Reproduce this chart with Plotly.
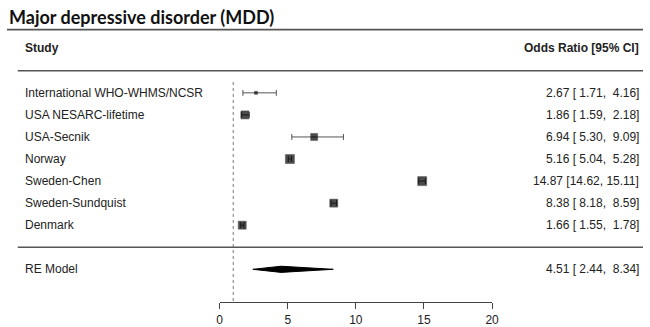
import plotly.graph_objects as go

# ---- data ----
studies = ["International WHO-WHMS/NCSR", "USA NESARC-lifetime", "USA-Secnik",
           "Norway", "Sweden-Chen", "Sweden-Sundquist", "Denmark"]
odds_ratio = [2.67, 1.86, 6.94, 5.16, 14.87, 8.38, 1.66]
ci_low = [1.71, 1.59, 5.30, 5.04, 14.62, 8.18, 1.55]
ci_high = [4.16, 2.18, 9.09, 5.28, 15.11, 8.59, 1.78]
re_label = "RE Model"
re_est, re_low, re_high = 4.51, 2.44, 8.34
x_ticks = [0, 5, 10, 15, 20]
ref_value = 1

# ---- style ----
marker_px = [3, 8, 7, 9, 9, 8, 8]
W, H = 650, 327
row_px = 22.33
first_row_px = 94
rows = list(range(1, len(studies) + 1))
re_row = len(studies) + 2
sep_row = len(studies) + 1
axis_px = 306

def row_range():
    top = 1 - first_row_px / row_px
    bot = 1 + (H - first_row_px) / row_px
    return [bot, top]

yr = row_range()
def px_to_row(p):
    return 1 + (p - first_row_px) / row_px

def fmt(e, l, u):
    nb = "\u00a0"
    return f"{e:.2f} [{l:5.2f}, {u:5.2f}]".replace(" ", nb)

FONT = "Liberation Sans, Arial, sans-serif"
TXT = "#222222"
LINE = "#555555"

fig = go.Figure()

# CI whiskers (drawn first, below the squares)
fig.add_trace(go.Scatter(
    x=odds_ratio, y=rows, mode="markers",
    marker=dict(size=1, color="rgba(0,0,0,0)"),
    error_x=dict(type="data", symmetric=False,
                 array=[u - e for u, e in zip(ci_high, odds_ratio)],
                 arrayminus=[e - l for e, l in zip(odds_ratio, ci_low)],
                 width=3, thickness=1, color=LINE),
    cliponaxis=False, showlegend=False, hoverinfo="skip"))

# point estimates
fig.add_trace(go.Scatter(
    x=odds_ratio, y=rows, mode="markers",
    marker=dict(symbol="square", size=marker_px, color="black",
                line=dict(width=0.5, color="black")),
    cliponaxis=False, showlegend=False, hoverinfo="skip"))

h = 0.14
fig.add_trace(go.Scatter(
    x=[re_low, re_est, re_high, re_est, re_low],
    y=[re_row, re_row - h, re_row, re_row + h, re_row],
    mode="lines", fill="toself", fillcolor="black",
    line=dict(color="black", width=1),
    cliponaxis=False, showlegend=False, hoverinfo="skip"))

# reference dotted line
fig.add_shape(type="line", xref="x", yref="y", x0=ref_value, x1=ref_value,
              y0=px_to_row(83), y1=px_to_row(axis_px),
              line=dict(color="#777777", width=1, dash="dot"))
# horizontal rules
fig.add_shape(type="line", xref="paper", yref="paper", x0=4 / W, x1=1,
              y0=1 - 30 / H, y1=1 - 30 / H, line=dict(color=LINE, width=1.6))
fig.add_shape(type="line", xref="paper", yref="y", x0=15 / W, x1=1,
              y0=0, y1=0, line=dict(color=LINE, width=1.6))
fig.add_shape(type="line", xref="paper", yref="y", x0=15 / W, x1=1,
              y0=sep_row, y1=sep_row, line=dict(color=LINE, width=1.6))

ann = []
ann.append(dict(text="<b>Major depressive disorder (MDD)</b>", x=4 / W, y=1 - 17 / H,
                xref="paper", yref="paper", xanchor="left", yanchor="middle",
                showarrow=False, font=dict(family="Lato, sans-serif", size=18, color="#111111")))
ann.append(dict(text="<b>Study</b>", x=20 / W, y=px_to_row(49), xref="paper", yref="y",
                xanchor="left", yanchor="middle", showarrow=False,
                font=dict(family=FONT, size=12, color=TXT)))
ann.append(dict(text="<b>Odds Ratio [95% CI]</b>", x=648 / W, y=px_to_row(49), xref="paper", yref="y",
                xanchor="right", yanchor="middle", showarrow=False,
                font=dict(family=FONT, size=12, color=TXT)))
for s, r, e, l, u in zip(studies, rows, odds_ratio, ci_low, ci_high):
    ann.append(dict(text=s, x=20 / W, y=r, xref="paper", yref="y", xanchor="left",
                    yanchor="middle", showarrow=False, font=dict(family=FONT, size=12, color=TXT)))
    ann.append(dict(text=fmt(e, l, u), x=648 / W, y=r, xref="paper", yref="y", xanchor="right",
                    yanchor="middle", showarrow=False, font=dict(family=FONT, size=12, color=TXT)))
ann.append(dict(text=re_label, x=20 / W, y=re_row, xref="paper", yref="y", xanchor="left",
                yanchor="middle", showarrow=False, font=dict(family=FONT, size=12, color=TXT)))
ann.append(dict(text=fmt(re_est, re_low, re_high), x=648 / W, y=re_row, xref="paper", yref="y",
                xanchor="right", yanchor="middle", showarrow=False,
                font=dict(family=FONT, size=12, color=TXT)))

fig.update_layout(
    width=W, height=H, margin=dict(l=0, r=0, t=0, b=0),
    paper_bgcolor="white", plot_bgcolor="white",
    annotations=ann,
    xaxis=dict(domain=[220 / W, 496.7 / W], range=[0, 20], anchor="free",
               position=(H - axis_px) / H, showline=True, linecolor="#444444", linewidth=1,
               ticks="outside", ticklen=6, tickcolor="#444444", tickwidth=1,
               tickvals=x_ticks, showgrid=False, zeroline=False,
               tickfont=dict(family=FONT, size=12, color=TXT)),
    yaxis=dict(domain=[0, 1], range=yr, visible=False, showgrid=False, zeroline=False),
)

fig.write_html("out.html", config={"displayModeBar": False},
               post_script="document.body.style.margin='0px';document.body.style.overflow='hidden';")
